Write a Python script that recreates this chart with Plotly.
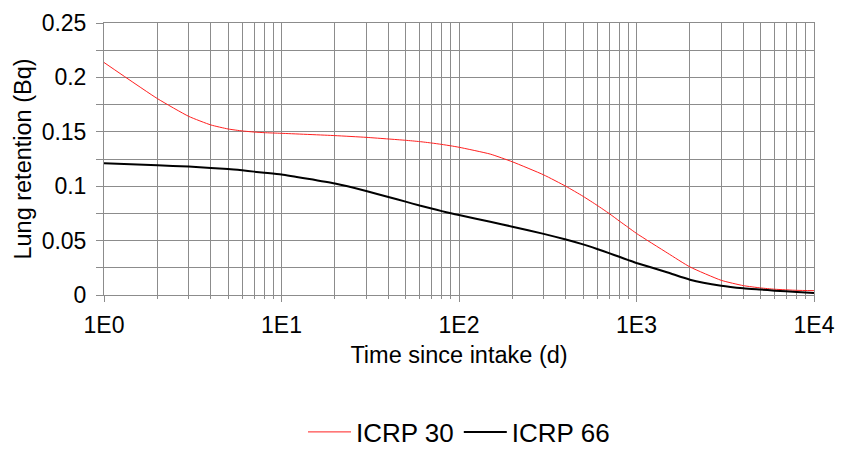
import plotly.graph_objects as go

# Time since intake (d)
time_d = [1, 2, 3, 4, 5, 6, 7, 8, 10, 20, 30, 40, 50, 60, 70, 80, 90, 100, 150,
          200, 300, 400, 500, 600, 700, 800, 900, 1000, 1500, 2000, 3000,
          4000, 5000, 6000, 8000, 10000]

icrp30 = [0.2137, 0.1805, 0.1642, 0.1563, 0.1526, 0.1508, 0.1498, 0.1492,
          0.1486, 0.1465, 0.1449, 0.1434, 0.1422, 0.1410, 0.1397, 0.1384, 0.1371,
          0.1358, 0.1295, 0.1224, 0.1104, 0.0999, 0.0907, 0.0824, 0.0750, 0.0680,
          0.0620, 0.0566, 0.0384, 0.0258, 0.0135, 0.0086, 0.0065, 0.0053,
          0.0043, 0.0040]

icrp66 = [0.1210, 0.1192, 0.1180, 0.1167, 0.1158, 0.1146, 0.1134, 0.1124,
          0.1107, 0.1024, 0.0956, 0.0901, 0.0858, 0.0822, 0.0795, 0.0771, 0.0751,
          0.0735, 0.0673, 0.0628, 0.0562, 0.0510, 0.0465, 0.0423, 0.0385, 0.0351,
          0.0321, 0.0294, 0.0207, 0.0141, 0.0086, 0.0062, 0.0050, 0.0040,
          0.0028, 0.0018]

x_tickvals = [1, 10, 100, 1000, 10000]
x_ticktext = ["1E0", "1E1", "1E2", "1E3", "1E4"]

FONT = "Liberation Sans, Arial, sans-serif"
GRID = "#8c8c8c"

fig = go.Figure()
fig.add_trace(go.Scatter(x=time_d, y=icrp30, mode="lines", name="ICRP 30",
                         line=dict(color="#ff2020", width=1, shape="spline", smoothing=0.5)))
fig.add_trace(go.Scatter(x=time_d, y=icrp66, mode="lines", name="ICRP 66",
                         line=dict(color="#000000", width=2, shape="spline", smoothing=0.5)))

fig.update_layout(
    width=841, height=449,
    margin=dict(l=104, r=27, t=23, b=154, autoexpand=False),
    paper_bgcolor="white", plot_bgcolor="white",
    font=dict(family=FONT, color="black", size=23),
    showlegend=True,
    legend=dict(orientation="h", x=0.5, xanchor="center",
                yref="container", y=1 - 432 / 449, yanchor="middle",
                font=dict(size=26, family=FONT), bgcolor="rgba(0,0,0,0)",
                itemwidth=43, tracegroupgap=0),
)

fig.update_xaxes(
    type="log", range=[0, 4], automargin=False,
    tickvals=x_tickvals, ticktext=x_ticktext,
    ticks="outside", ticklen=6, tickcolor=GRID, tickwidth=1,
    ticklabelstandoff=3,
    showgrid=True, gridcolor=GRID, gridwidth=1,
    showline=True, linecolor=GRID, linewidth=1, mirror=True,
    zeroline=False,
    minor=dict(ticks="outside", ticklen=3, tickcolor=GRID, showgrid=True,
               gridcolor=GRID, gridwidth=1, dtick="D1"),
    tickfont=dict(size=23, family=FONT),
    title=dict(text="Time since intake (d)", font=dict(size=23.5, family=FONT), standoff=9),
)

fig.update_yaxes(
    range=[0, 0.25], dtick=0.05, tick0=0, automargin=False,
    ticks="outside", ticklen=7, tickcolor=GRID, tickwidth=1,
    ticklabelstandoff=5,
    showgrid=True, gridcolor=GRID, gridwidth=1,
    showline=True, linecolor=GRID, linewidth=1, mirror=True,
    zeroline=False,
    minor=dict(ticks="outside", ticklen=7, tickcolor=GRID, showgrid=True,
               gridcolor=GRID, gridwidth=1, dtick=0.025),
    tickfont=dict(size=23, family=FONT),
    title=dict(text="Lung retention (Bq)", font=dict(size=23.5, family=FONT), standoff=3),
)

fig.write_html("out.html")
